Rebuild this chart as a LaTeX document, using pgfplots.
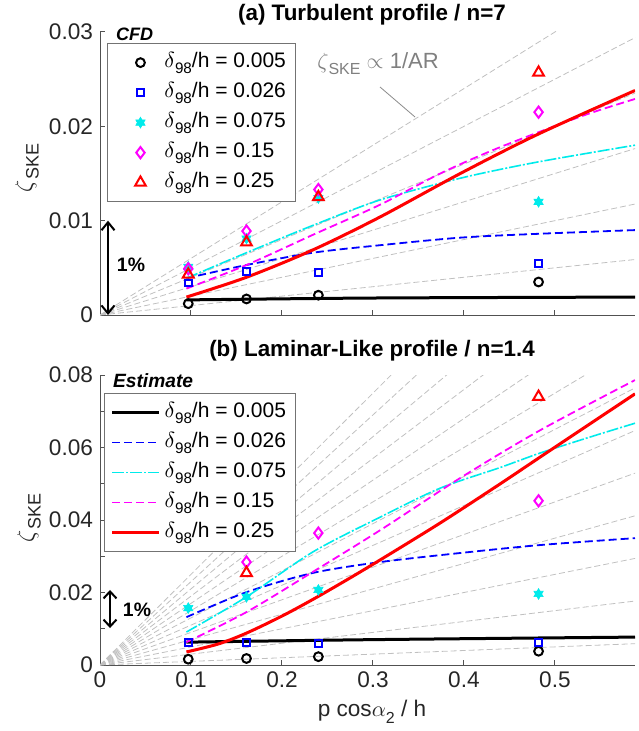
\documentclass[border=0pt]{standalone}
\usepackage{pgfplots}
\pgfplotsset{compat=1.18}
\usepackage{fontspec}
\setmainfont{Liberation Sans}
\usetikzlibrary{arrows.meta}
\definecolor{axgray}{RGB}{38,38,38}
\definecolor{refgray}{RGB}{192,192,192}
\definecolor{mblue}{RGB}{0,0,255}
\definecolor{mcyan}{RGB}{0,235,235}
\definecolor{mmag}{RGB}{255,0,255}
\definecolor{mred}{RGB}{255,0,0}
\pgfdeclareplotmark{hexagram}{%
 \pgfpathmoveto{\pgfqpointpolar{90}{\pgfplotmarksize}}%
 \pgfpathlineto{\pgfqpointpolar{210}{\pgfplotmarksize}}%
 \pgfpathlineto{\pgfqpointpolar{330}{\pgfplotmarksize}}%
 \pgfpathclose
 \pgfpathmoveto{\pgfqpointpolar{270}{\pgfplotmarksize}}%
 \pgfpathlineto{\pgfqpointpolar{30}{\pgfplotmarksize}}%
 \pgfpathlineto{\pgfqpointpolar{150}{\pgfplotmarksize}}%
 \pgfpathclose
 \pgfusepathqfillstroke}
\newcommand{\dn}[1]{$\delta$\raisebox{-0.55ex}{\fontsize{7.6}{8}\selectfont 98}/h = #1}
\newcommand{\zske}[1]{$\zeta$\raisebox{-0.5ex}{\fontsize{#1}{#1}\selectfont SKE}}
\pgfplotsset{
 myaxis/.style={scale only axis, width=267.5pt, xmin=0, xmax=0.588,
  axis x line*=bottom, axis y line*=left, tick align=inside,
  major tick length=2.5pt, minor tick length=2.5pt,
  axis line style={axgray!80, line width=0.5pt},
  tick style={axgray!80, line width=0.5pt},
  ticklabel style={font=\fontsize{11.3}{13}\selectfont, text=axgray},
  xtick={0,0.1,0.2,0.3,0.4,0.5}, scaled ticks=false,
  /pgf/number format/assume math mode=true},
 ref/.style={draw=refgray, line width=0.4pt, dash pattern=on 3pt off 1.5pt, forget plot},
 cblack/.style={draw=black, line width=1.5pt, smooth},
 cblue/.style={draw=mblue, line width=0.9pt, dash pattern=on 4pt off 2pt, smooth},
 ccyan/.style={draw=mcyan, line width=0.8pt, dash pattern=on 6pt off 1pt on 1pt off 1pt, smooth},
 cmag/.style={draw=mmag, line width=0.9pt, dash pattern=on 4pt off 2pt, smooth},
 cred/.style={draw=mred, line width=1.5pt, smooth},
 mblack/.style={black, only marks, mark=o, mark size=2.2pt, mark options={black, line width=1pt, fill=white}},
 mblu/.style={mblue, only marks, mark=square, mark size=1.7pt, mark options={mblue, line width=1pt, fill=white}},
 mcya/.style={mcyan, only marks, mark=hexagram, mark size=2.7pt, mark options={mcyan, fill=mcyan, line width=0.3pt}},
 mmagm/.style={mmag, only marks, mark=diamond, mark size=2.8pt, mark options={mmag, line width=1pt, fill=white}},
 mredm/.style={mred, only marks, mark=triangle, mark size=3.1pt, mark options={mred, line width=1pt, fill=white}},
 leg/.style={legend style={anchor=north west, draw=black!55, fill=white, line width=0.5pt,
    font=\fontsize{10.5}{12}\selectfont, inner xsep=3pt, inner ysep=2.3pt, row sep=0.5pt,
    nodes={text height=7.5pt, text depth=3pt}},
  legend cell align=left},
}
\begin{document}
\begin{tikzpicture}
% ---------------- top panel ----------------
\begin{axis}[myaxis, leg, at={(50pt,-157.5pt)}, anchor=south west, height=141.5pt,
  ymin=0, ymax=0.03, ytick={0,0.01,0.02,0.03}, yticklabels={0,0.01,0.02,0.03}, xticklabels={},
  legend style={at={(0.013,0.961)}},
  legend image code/.code={\path[draw=none,fill=none] (0pt,0pt) -- (23.5pt,0pt); \draw[#1] plot coordinates {(13.5pt,0pt)};}]
\addplot[ref] coordinates {(0,0) (0.6,0.006)};
\addplot[ref] coordinates {(0,0) (0.6,0.012)};
\addplot[ref] coordinates {(0,0) (0.6,0.018)};
\addplot[ref] coordinates {(0,0) (0.6,0.024)};
\addplot[ref] coordinates {(0,0) (0.6,0.030)};
\addplot[ref] coordinates {(0,0) (0.6,0.036)};
% estimate curves
\addplot[cblack, forget plot] coordinates {(0.095,0.0016) (0.3,0.0018) (0.588,0.0019)};
\addplot[cblue, forget plot] coordinates {(0.095,0.0039) (0.161,0.0053) (0.234,0.0066) (0.308,0.0074) (0.396,0.0082) (0.48,0.0086) (0.588,0.0090)};
\addplot[ccyan, forget plot] coordinates {(0.095,0.0039) (0.161,0.0066) (0.234,0.0095) (0.308,0.0122) (0.396,0.0145) (0.48,0.0162) (0.588,0.0180)};
\addplot[cmag, forget plot] coordinates {(0.095,0.0028) (0.161,0.0053) (0.234,0.0085) (0.308,0.0117) (0.374,0.0150) (0.44,0.0178) (0.53,0.0211) (0.588,0.0229)};
\addplot[cred, forget plot] coordinates {(0.095,0.0019) (0.161,0.0040) (0.234,0.0069) (0.308,0.0104) (0.396,0.0150) (0.48,0.0191) (0.588,0.0238)};
% CFD markers
\addplot[mblack] coordinates {(0.097,0.0012) (0.161,0.0017) (0.24,0.0021) (0.482,0.0035)};
\addlegendentry{\dn{0.005}}
\addplot[mblu] coordinates {(0.097,0.0034) (0.161,0.0046) (0.24,0.0045) (0.482,0.0055)};
\addlegendentry{\dn{0.026}}
\addplot[mcya] coordinates {(0.097,0.0051) (0.161,0.0081) (0.24,0.0124) (0.482,0.0120)};
\addlegendentry{\dn{0.075}}
\addplot[mmagm] coordinates {(0.097,0.0049) (0.161,0.0089) (0.24,0.0133) (0.482,0.0215)};
\addlegendentry{\dn{0.15}}
\addplot[mredm] coordinates {(0.097,0.0043) (0.161,0.0077) (0.24,0.0125) (0.482,0.0257)};
\addlegendentry{\dn{0.25}}
\draw[<->, >={Straight Barb[length=4pt,width=6.5pt]}, line width=1pt, black] (axis cs:0.0088,0) -- (axis cs:0.0088,0.01);
\end{axis}
% ---------------- bottom panel ----------------
\begin{axis}[myaxis, leg, at={(50pt,-332.5pt)}, anchor=south west, height=145pt,
  ymin=0, ymax=0.08, ytick={0,0.02,0.04,0.06,0.08}, yticklabels={0,0.02,0.04,0.06,0.08},
  minor ytick={0.01,0.03,0.05,0.07},
  xticklabels={0,0.1,0.2,0.3,0.4,0.5},
  legend style={at={(0.0075,0.938)}},
  legend image code/.code={\draw[#1] (0pt,0pt) -- (23.5pt,0pt);}]
\addplot[ref] coordinates {(0,0) (0.6,0.006)};
\addplot[ref] coordinates {(0,0) (0.6,0.018)};
\addplot[ref] coordinates {(0,0) (0.6,0.030)};
\addplot[ref] coordinates {(0,0) (0.6,0.042)};
\addplot[ref] coordinates {(0,0) (0.6,0.054)};
\addplot[ref] coordinates {(0,0) (0.6,0.066)};
\addplot[ref] coordinates {(0,0) (0.6,0.078)};
\addplot[ref] coordinates {(0,0) (0.6,0.090)};
\addplot[ref] coordinates {(0,0) (0.6,0.102)};
\addplot[ref] coordinates {(0,0) (0.6,0.114)};
\addplot[ref] coordinates {(0,0) (0.6,0.126)};
\addplot[ref] coordinates {(0,0) (0.6,0.138)};
\addplot[ref] coordinates {(0,0) (0.6,0.150)};
% estimate curves
\addplot[cblack] coordinates {(0.095,0.0063) (0.3,0.0070) (0.588,0.0077)};
\addlegendentry{\dn{0.005}}
\addplot[cblue] coordinates {(0.095,0.0132) (0.161,0.0201) (0.234,0.0254) (0.308,0.0284) (0.396,0.0309) (0.484,0.0331) (0.588,0.0350)};
\addlegendentry{\dn{0.026}}
\addplot[ccyan] coordinates {(0.095,0.0091) (0.161,0.0188) (0.234,0.0312) (0.308,0.0408) (0.374,0.0488) (0.44,0.0545) (0.484,0.0585) (0.54,0.0630) (0.588,0.0667)};
\addlegendentry{\dn{0.075}}
\addplot[cmag] coordinates {(0.095,0.0063) (0.161,0.0146) (0.234,0.0257) (0.308,0.0372) (0.396,0.0516) (0.484,0.0648) (0.588,0.0786)};
\addlegendentry{\dn{0.15}}
\addplot[cred] coordinates {(0.095,0.0036) (0.13,0.0058) (0.161,0.0088) (0.2,0.0135) (0.234,0.0181) (0.27,0.0233) (0.308,0.0290) (0.374,0.0392) (0.44,0.0500) (0.484,0.0574) (0.588,0.0748)};
\addlegendentry{\dn{0.25}}
% CFD markers
\addplot[mblack, forget plot] coordinates {(0.097,0.0016) (0.161,0.0018) (0.24,0.0023) (0.482,0.0038)};
\addplot[mblu, forget plot] coordinates {(0.097,0.0063) (0.161,0.0062) (0.24,0.0059) (0.482,0.0063)};
\addplot[mcya, forget plot] coordinates {(0.097,0.0157) (0.161,0.0188) (0.24,0.0207) (0.482,0.0196)};
\addplot[mmagm, forget plot] coordinates {(0.161,0.0284) (0.24,0.0364) (0.482,0.0453)};
\addplot[mredm, forget plot] coordinates {(0.161,0.0254) (0.482,0.0740)};
\draw[<->, >={Straight Barb[length=3.5pt,width=6.5pt]}, line width=1pt, black] (axis cs:0.011,0.0102) -- (axis cs:0.011,0.0207);
\end{axis}
% ---------------- texts ----------------
\begin{scope}[x=0.5pt, y=-0.5pt]
\node[font=\fontsize{11.2}{13}\selectfont\bfseries] at (372,15) {(a) Turbulent profile / n=7};
\node[font=\fontsize{11.2}{13}\selectfont\bfseries] at (372,351) {(b) Laminar-Like profile / n=1.4};
\node[rotate=90, font=\fontsize{12.5}{14}\selectfont, text=axgray] at (27,168) {\zske{9}};
\node[rotate=90, font=\fontsize{12.5}{14}\selectfont, text=axgray] at (29,518) {\zske{9}};
\node[font=\fontsize{11.3}{13}\selectfont, text=axgray] at (372,712) {p cos$\alpha$\raisebox{-0.6ex}{\fontsize{8}{9}\selectfont 2} / h};
\node[anchor=west, font=\fontsize{9}{10}\selectfont\bfseries\itshape] at (109,34) {CFD};
\node[anchor=west, font=\fontsize{9.6}{11}\selectfont\bfseries\itshape] at (106,381) {Estimate};
\node[font=\fontsize{9.7}{11}\selectfont\bfseries] at (131,265) {1\%};
\node[font=\fontsize{9.7}{11}\selectfont\bfseries] at (137,610) {1\%};
\node[font=\fontsize{11}{13}\selectfont, text=black!50] at (378,64) {\zske{8} $\propto$ 1/AR};
\draw[black!45, line width=0.4pt] (380,87) -- (415,117);
\end{scope}
\pgfresetboundingbox
\path[use as bounding box] (0,0) rectangle (319pt,-365.5pt);
\end{tikzpicture}
\end{document}
